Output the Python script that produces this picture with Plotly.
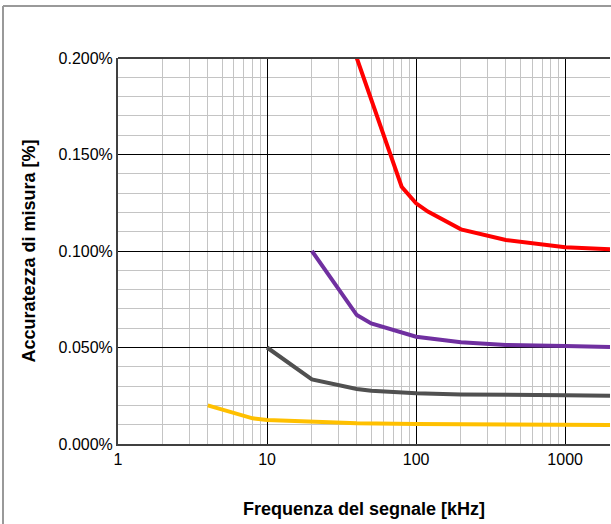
import plotly.graph_objects as go
import math

red_x = [40, 80, 100, 120, 200, 400, 1000, 2000]
red_y = [0.200, 0.1333, 0.1247, 0.1204, 0.1112, 0.1057, 0.1019, 0.1009]

purple_x = [20, 40, 50, 100, 200, 400, 1000, 2000]
purple_y = [0.100, 0.0668, 0.0625, 0.0556, 0.0527, 0.0513, 0.0508, 0.0503]

gray_x = [10, 20, 40, 50, 100, 200, 1000, 2000]
gray_y = [0.050, 0.0335, 0.0285, 0.0276, 0.0263, 0.0257, 0.0252, 0.0250]

yellow_x = [4, 8, 10, 20, 40, 100, 1000, 2000]
yellow_y = [0.020, 0.0133, 0.0125, 0.0115, 0.0107, 0.0103, 0.0100, 0.0099]

x_ticks = [1, 10, 100, 1000]
x_tick_labels = ["1", "10", "100", "1000"]

series = [
    (yellow_x, yellow_y, "#FFC000"),
    (gray_x, gray_y, "#505050"),
    (purple_x, purple_y, "#7030A0"),
    (red_x, red_y, "#FF0000"),
]

fig = go.Figure()
for xs, ys, col in series:
    fig.add_trace(go.Scatter(x=xs, y=ys, mode="lines",
                             line=dict(color=col, width=4), showlegend=False,
                             hoverinfo="skip"))

font = "Liberation Sans, Arial, sans-serif"
fig.update_layout(
    width=611, height=524,
    margin=dict(l=118, r=1, t=58, b=80),
    paper_bgcolor="white", plot_bgcolor="white",
    font=dict(family=font, size=16, color="#000000"),
    xaxis=dict(
        type="log", range=[0, math.log10(2000)],
        tickvals=x_ticks, ticktext=x_tick_labels,
        showgrid=True, gridcolor="#000000", gridwidth=1,
        minor=dict(showgrid=True, gridcolor="#C4C4C4", gridwidth=1, dtick="D1", ticks=""),
        showline=True, linecolor="#404040", linewidth=2, mirror=False,
        ticks="", zeroline=False,
        title=dict(text="<b>Frequenza del segnale [kHz]</b>", font=dict(size=18), standoff=35),
        tickfont=dict(size=16),
    ),
    yaxis=dict(
        range=[0, 0.2], dtick=0.05, tick0=0,
        tickformat=".3f", ticksuffix="%",
        showgrid=True, gridcolor="#000000", gridwidth=1,
        minor=dict(showgrid=True, gridcolor="#C4C4C4", gridwidth=1, dtick=0.01, ticks=""),
        showline=True, linecolor="#404040", linewidth=2,
        ticks="", zeroline=False,
        title=dict(text="<b>Accuratezza di misura [%]</b>", font=dict(size=18), standoff=18),
        tickfont=dict(size=16),
    ),
)

# top border of the plot area
fig.add_shape(type="line", xref="paper", yref="paper", x0=0, x1=1, y0=1, y1=1,
              line=dict(color="#404040", width=2))
# outer frame (left and top edges visible)
fx = (3 - 118) / 492
fy = (444 - 6) / 386
fig.add_shape(type="line", xref="paper", yref="paper",
              x0=fx, x1=fx, y0=fy, y1=-0.4,
              line=dict(color="#999999", width=2), layer="above")
fig.add_shape(type="line", xref="paper", yref="paper",
              x0=fx, x1=1.2, y0=fy, y1=fy,
              line=dict(color="#999999", width=2), layer="above")

fig.write_html("out.html", config={"displayModeBar": False},
               post_script="document.body.style.margin='0';document.body.style.overflow='hidden';")
